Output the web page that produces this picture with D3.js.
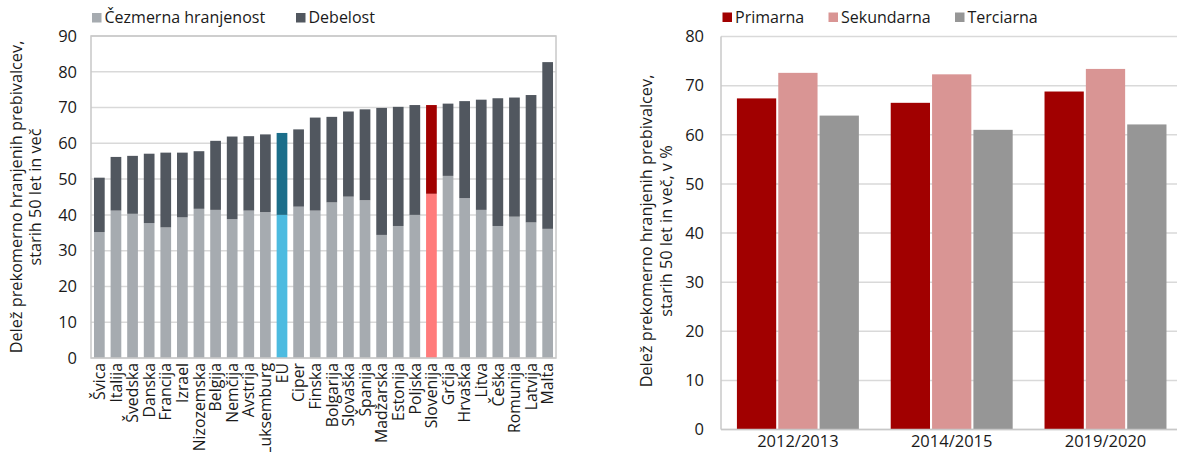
<!DOCTYPE html>
<html><head><meta charset="utf-8">
<script src="https://cdn.jsdelivr.net/npm/d3@7"></script>
<style>
body{margin:0;background:#fff;}
svg{display:block;font-family:"Open Sans",sans-serif;}
</style></head>
<body><svg id="c" width="1177" height="452"></svg>
<script>
// ---- Left chart data ----
const countries = ["Švica","Italija","Švedska","Danska","Francija","Izrael","Nizozemska","Belgija","Nemčija","Avstrija","Luksemburg","EU","Ciper","Finska","Bolgarija","Slovaška","Španija","Madžarska","Estonija","Poljska","Slovenija","Grčija","Hrvaška","Litva","Češka","Romunija","Latvija","Malta"];
const overweight = [35.2,41.2,40.3,37.7,36.5,39.3,41.7,41.4,38.8,41.2,40.8,40.0,42.3,41.2,43.5,45.1,44.1,34.4,36.9,40.0,45.9,50.9,44.7,41.4,36.9,39.5,37.9,36.1];
const obesity = [15.2,15.0,16.2,19.4,20.9,18.1,16.1,19.3,23.1,20.8,21.7,22.9,21.6,26.0,23.9,23.8,25.4,35.5,33.3,30.7,24.8,20.2,27.1,30.8,35.7,33.3,35.6,46.6];
const leftTicks = [0,10,20,30,40,50,60,70,80,90];
const leftSeries = ["Čezmerna hranjenost","Debelost"];

// ---- Right chart data ----
const periods = ["2012/2013","2014/2015","2019/2020"];
const primarna = [67.4,66.5,68.8];
const sekundarna = [72.6,72.3,73.4];
const terciarna = [63.9,61.0,62.1];
const rightSeries = ["Primarna","Sekundarna","Terciarna"];
const rightTicks = [0,10,20,30,40,50,60,70,80];

const svg = d3.select("#c");
const gridCol = "#d9d9d9", axisCol = "#c8c8c8", textCol = "#1a1a1a";
const fs = 16.3;

// ================= LEFT CHART =================
(function(){
  const L = 91, R = 556, T = 36, B = 358;
  const x = d3.scaleBand().domain(countries).range([L, R]).paddingInner(0.355).paddingOuter(0.18);
  const y = d3.scaleLinear().domain([0, 90]).range([B, T]);
  const g = svg.append("g");

  g.append("g").selectAll("line").data(leftTicks).join("line")
    .attr("x1", L).attr("x2", R).attr("y1", d => y(d)).attr("y2", d => y(d))
    .attr("stroke", gridCol).attr("stroke-width", 1.5);

  const rows = countries.map((c, i) => ({c, ow: overweight[i], ob: obesity[i]}));
  const stack = d3.stack().keys(["ow","ob"])(rows);
  const colors = {
    ow: c => c === "EU" ? "#4cbbe0" : c === "Slovenija" ? "#ff7b7b" : "#a6abb0",
    ob: c => c === "EU" ? "#1b6e8a" : c === "Slovenija" ? "#a10000" : "#51575f"
  };
  stack.forEach(s => {
    g.append("g").selectAll("rect").data(s).join("rect")
      .attr("x", d => x(d.data.c))
      .attr("width", x.bandwidth())
      .attr("y", d => y(d[1]))
      .attr("height", d => y(d[0]) - y(d[1]))
      .attr("fill", d => colors[s.key](d.data.c));
  });

  g.append("rect").attr("x", L).attr("y", T).attr("width", R - L).attr("height", B - T)
    .attr("fill", "none").attr("stroke", axisCol).attr("stroke-width", 1.5);

  const ya = d3.axisLeft(y).tickValues(leftTicks).tickSize(0).tickPadding(14);
  const yg = g.append("g").attr("transform", `translate(${L},0)`).call(ya);
  yg.select(".domain").remove();
  yg.selectAll("text").attr("font-size", 16.5).attr("fill", textCol).attr("font-family", "Open Sans");

  const xa = d3.axisBottom(x).tickSize(0).tickPadding(0);
  const xg = g.append("g").attr("transform", `translate(0,${B})`).call(xa);
  xg.select(".domain").remove();
  xg.selectAll("text")
    .attr("font-size", 15.8).attr("fill", textCol).attr("font-family", "Open Sans")
    .attr("transform", "rotate(-90)")
    .attr("text-anchor", "end")
    .attr("x", -5).attr("y", 0).attr("dy", "0.36em");

  const yt = g.append("text").attr("transform", "translate(22,197) rotate(-90)")
    .attr("text-anchor", "middle").attr("font-size", fs).attr("fill", textCol);
  yt.append("tspan").attr("x", 0).attr("dy", 0).text("Delež prekomerno hranjenih prebivalcev,");
  yt.append("tspan").attr("x", 0).attr("dy", 19).text("starih 50 let in več");

  const lg = g.append("g");
  const legX = [92, 296];
  const legCol = ["#a6abb0", "#51575f"];
  leftSeries.forEach((s, i) => {
    lg.append("rect").attr("x", legX[i]).attr("y", 13).attr("width", 9.5).attr("height", 9.5).attr("fill", legCol[i]);
    lg.append("text").attr("x", legX[i] + 12.5).attr("y", 23).attr("font-size", 16).attr("fill", textCol).text(s);
  });
})();

// ================= RIGHT CHART =================
(function(){
  const L = 721, R = 1182.4, T = 36.5, B = 429.5;
  const x0 = d3.scaleBand().domain(periods).range([L, R]).paddingInner(0.207).paddingOuter(0.1035);
  const x1 = d3.scaleBand().domain(rightSeries).range([0, x0.bandwidth()]).paddingInner(0.05);
  const y = d3.scaleLinear().domain([0, 80]).range([B, T]);
  const col = {Primarna: "#a10000", Sekundarna: "#d99594", Terciarna: "#969696"};
  const vals = {Primarna: primarna, Sekundarna: sekundarna, Terciarna: terciarna};
  const g = svg.append("g");

  g.append("g").selectAll("line").data(rightTicks).join("line")
    .attr("x1", L).attr("x2", R).attr("y1", d => y(d)).attr("y2", d => y(d))
    .attr("stroke", gridCol).attr("stroke-width", 1.5);

  periods.forEach((p, i) => {
    g.append("g").attr("transform", `translate(${x0(p)},0)`)
      .selectAll("rect").data(rightSeries).join("rect")
      .attr("x", s => x1(s)).attr("width", x1.bandwidth())
      .attr("y", s => y(vals[s][i])).attr("height", s => B - y(vals[s][i]))
      .attr("fill", s => col[s]);
  });

  g.append("line").attr("x1", L).attr("x2", L).attr("y1", T).attr("y2", B).attr("stroke", axisCol).attr("stroke-width", 1.5);
  g.append("line").attr("x1", L).attr("x2", R).attr("y1", B).attr("y2", B).attr("stroke", axisCol).attr("stroke-width", 1.5);

  const ya = d3.axisLeft(y).tickValues(rightTicks).tickSize(0).tickPadding(17);
  const yg = g.append("g").attr("transform", `translate(${L},0)`).call(ya);
  yg.select(".domain").remove();
  yg.selectAll("text").attr("font-size", 16.5).attr("fill", textCol).attr("font-family", "Open Sans");

  const xa = d3.axisBottom(x0).tickSize(0).tickPadding(6);
  const xg = g.append("g").attr("transform", `translate(0,${B})`).call(xa);
  xg.select(".domain").remove();
  xg.selectAll("text").attr("font-size", 16.5).attr("fill", textCol).attr("font-family", "Open Sans");

  const yt = g.append("text").attr("transform", "translate(652,231) rotate(-90)")
    .attr("text-anchor", "middle").attr("font-size", fs).attr("fill", textCol);
  yt.append("tspan").attr("x", 0).attr("dy", 0).text("Delež prekomerno hranjenih prebivalcev,");
  yt.append("tspan").attr("x", 0).attr("dy", 20).text("starih 50 let in več, v %");

  const legX = [722.5, 828.5, 955];
  rightSeries.forEach((s, i) => {
    g.append("rect").attr("x", legX[i]).attr("y", 12.5).attr("width", 9.5).attr("height", 9.5).attr("fill", col[s]);
    g.append("text").attr("x", legX[i] + 12.5).attr("y", 22.5).attr("font-size", 16).attr("fill", textCol).text(s);
  });
})();
</script>
</body></html>
